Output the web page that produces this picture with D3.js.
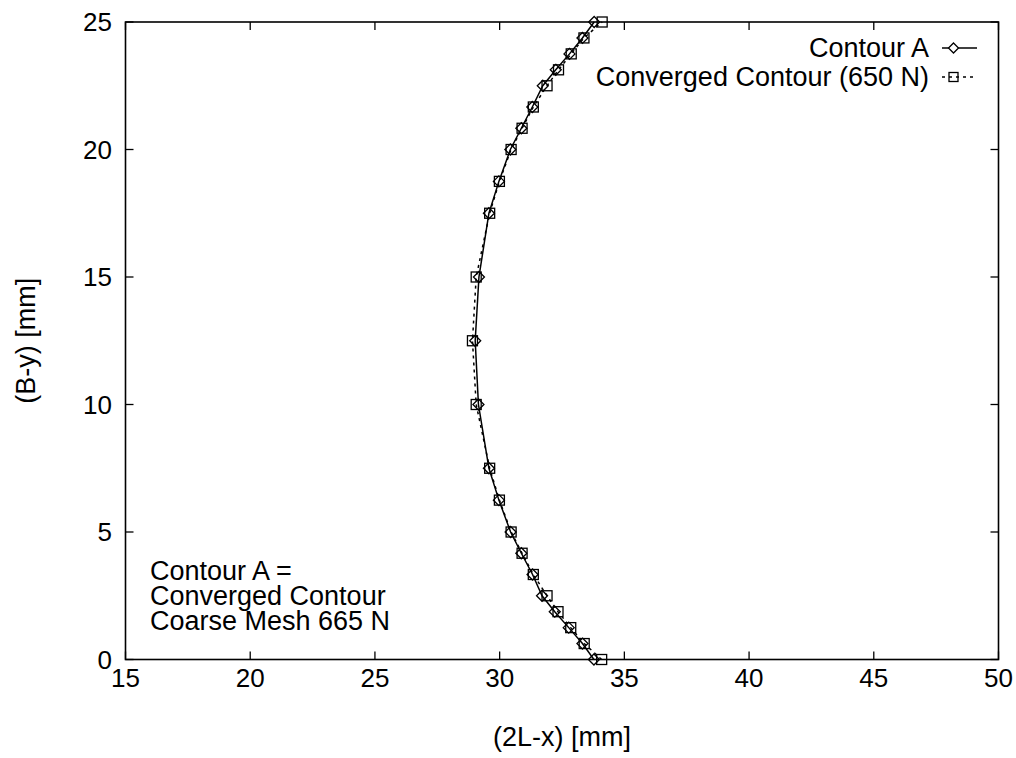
<!DOCTYPE html>
<html>
<head>
<meta charset="utf-8">
<script src="https://cdn.jsdelivr.net/npm/d3@7"></script>
<style>
  body { margin: 0; background: #fff; }
  svg text { font-family: "Liberation Sans", Arial, Helvetica, sans-serif; fill: #000; }
</style>
</head>
<body>
<svg id="chart" width="1016" height="758"></svg>
<script>
// values
var yLevels = [0, 0.625, 1.25, 1.875, 2.5, 3.333, 4.167, 5, 6.25, 7.5, 10, 12.5, 15,
  17.5, 18.75, 20, 20.833, 21.667, 22.5, 23.125, 23.75, 24.375, 25];
var contourA = [33.78, 33.32, 32.77, 32.21, 31.70, 31.32, 30.87, 30.44, 29.97, 29.57, 29.15, 29.02, 29.17,
  29.57, 29.97, 30.43, 30.87, 31.31, 31.73, 32.25, 32.80, 33.32, 33.79];
var converged = [34.09, 33.39, 32.85, 32.34, 31.90, 31.35, 30.90, 30.46, 29.99, 29.60, 29.06, 28.91, 29.06,
  29.60, 29.99, 30.46, 30.90, 31.35, 31.90, 32.36, 32.87, 33.38, 34.11];
var xTicks = [15, 20, 25, 30, 35, 40, 45, 50];
var yTicks = [0, 5, 10, 15, 20, 25];
var seriesNames = ['Contour A', 'Converged Contour (650 N)'];
var noteLines = ['Contour A =', 'Converged Contour', 'Coarse Mesh 665 N'];

(function() {
  var mLeft = 125.5, mRight = 998.5, mTop = 22, mBottom = 659.5;
  var svg = d3.select('#chart');

  var x = d3.scaleLinear().domain([15, 50]).range([mLeft, mRight]);
  var y = d3.scaleLinear().domain([0, 25]).range([mBottom, mTop]);

  var tickSize = 26, textSize = 27, tickLen = 8;

  // ticks, inward and mirrored
  var tickG = svg.append('g').attr('stroke', '#000').attr('stroke-width', 1.3);
  xTicks.forEach(function(t) {
    tickG.append('line').attr('x1', x(t)).attr('x2', x(t)).attr('y1', mBottom).attr('y2', mBottom - tickLen);
    tickG.append('line').attr('x1', x(t)).attr('x2', x(t)).attr('y1', mTop).attr('y2', mTop + tickLen);
  });
  yTicks.forEach(function(t) {
    tickG.append('line').attr('x1', mLeft).attr('x2', mLeft + tickLen).attr('y1', y(t)).attr('y2', y(t));
    tickG.append('line').attr('x1', mRight).attr('x2', mRight - tickLen).attr('y1', y(t)).attr('y2', y(t));
  });

  svg.append('g').selectAll('text').data(xTicks).enter().append('text')
    .attr('x', function(d) { return x(d); })
    .attr('y', 687)
    .attr('text-anchor', 'middle')
    .attr('font-size', tickSize)
    .text(function(d) { return d; });

  svg.append('g').selectAll('text').data(yTicks).enter().append('text')
    .attr('x', 112)
    .attr('y', function(d) { return y(d) + 9; })
    .attr('text-anchor', 'end')
    .attr('font-size', tickSize)
    .text(function(d) { return d; });

  // frame
  svg.append('rect')
    .attr('x', mLeft).attr('y', mTop)
    .attr('width', mRight - mLeft).attr('height', mBottom - mTop)
    .attr('fill', 'none').attr('stroke', '#000').attr('stroke-width', 1.6);

  // axis titles
  svg.append('text')
    .attr('x', (mLeft + mRight) / 2).attr('y', 746)
    .attr('text-anchor', 'middle').attr('font-size', textSize)
    .text('(2L-x) [mm]');
  svg.append('text')
    .attr('transform', 'translate(35,' + ((mTop + mBottom) / 2) + ') rotate(-90)')
    .attr('text-anchor', 'middle').attr('font-size', textSize)
    .text('(B-y) [mm]');

  // series
  var ptsA = yLevels.map(function(v, i) { return [contourA[i], v]; });
  var ptsC = yLevels.map(function(v, i) { return [converged[i], v]; });
  var line = d3.line().x(function(d) { return x(d[0]); }).y(function(d) { return y(d[1]); });

  var diamond = function(cx, cy, r) {
    return 'M' + cx + ',' + (cy - r) + 'L' + (cx + r) + ',' + cy + 'L' + cx + ',' + (cy + r) + 'L' + (cx - r) + ',' + cy + 'Z';
  };

  svg.append('path').datum(ptsA).attr('d', line)
    .attr('fill', 'none').attr('stroke', '#000').attr('stroke-width', 1.5);
  svg.append('g').selectAll('path').data(ptsA).enter().append('path')
    .attr('d', function(d) { return diamond(x(d[0]), y(d[1]), 5.5); })
    .attr('fill', 'none').attr('stroke', '#000').attr('stroke-width', 1.3);

  svg.append('path').datum(ptsC).attr('d', line)
    .attr('fill', 'none').attr('stroke', '#000').attr('stroke-width', 1.5)
    .attr('stroke-dasharray', '3,4');
  svg.append('g').selectAll('rect').data(ptsC).enter().append('rect')
    .attr('x', function(d) { return x(d[0]) - 5; })
    .attr('y', function(d) { return y(d[1]) - 5; })
    .attr('width', 10).attr('height', 10)
    .attr('fill', 'none').attr('stroke', '#000').attr('stroke-width', 1.3);

  // legend
  var legY = [48, 77];
  seriesNames.forEach(function(name, i) {
    svg.append('text')
      .attr('x', 929).attr('y', legY[i] + 9)
      .attr('text-anchor', 'end').attr('font-size', textSize)
      .text(name);
    var l = svg.append('line')
      .attr('x1', 942).attr('x2', 977).attr('y1', legY[i]).attr('y2', legY[i])
      .attr('stroke', '#000').attr('stroke-width', 1.5);
    if (i === 0) {
      svg.append('path').attr('d', diamond(953.5, legY[i], 5))
        .attr('fill', '#fff').attr('stroke', '#000').attr('stroke-width', 1.3);
    } else {
      l.attr('stroke-dasharray', '3,4');
      svg.append('rect').attr('x', 949).attr('y', legY[i] - 4.5).attr('width', 9).attr('height', 9)
        .attr('fill', 'none').attr('stroke', '#000').attr('stroke-width', 1.3);
    }
  });

  // note
  svg.append('g').selectAll('text').data(noteLines).enter().append('text')
    .attr('x', 150)
    .attr('y', function(d, i) { return 580 + i * 25; })
    .attr('font-size', textSize)
    .text(function(d) { return d; });
})();
</script>
</body>
</html>
